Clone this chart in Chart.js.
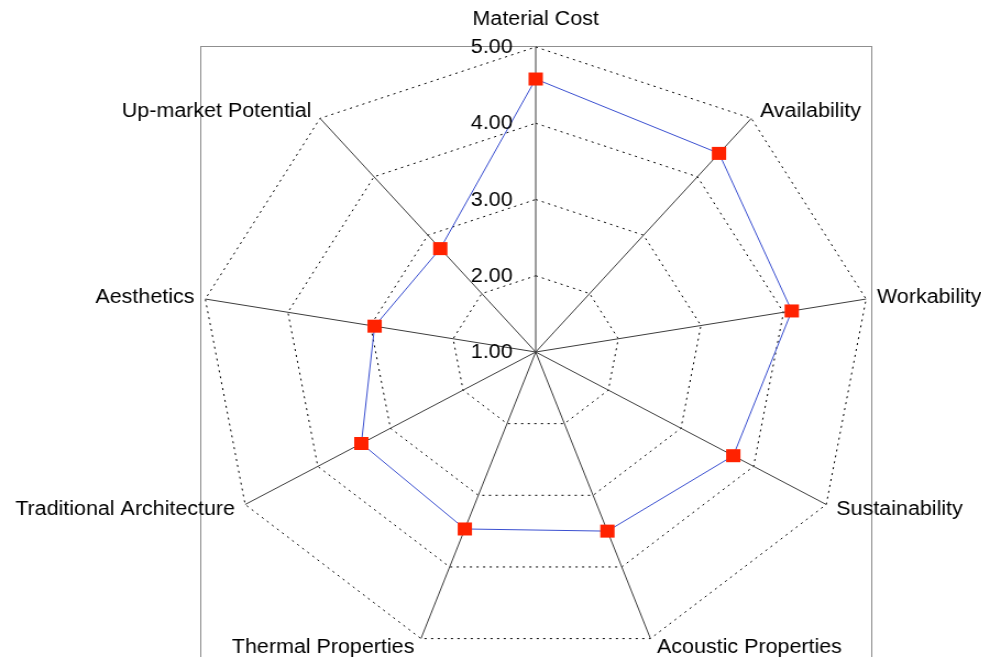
<!DOCTYPE html>
<html>
<head>
<meta charset="utf-8">
<title>Radar</title>
<script src="https://cdn.jsdelivr.net/npm/chart.js@4/dist/chart.umd.min.js"></script>
<style>
  html, body { margin: 0; padding: 0; background: #fff; overflow: hidden; }
  #wrap { width: 892px; height: 657px; transform: scaleX(1.1); transform-origin: 0 0; }
</style>
</head>
<body>
<div id="wrap"><canvas id="myChart" width="892" height="657"></canvas></div>
<script>
const categories = ['Material Cost', 'Availability', 'Workability', 'Sustainability',
    'Acoustic Properties', 'Thermal Properties', 'Traditional Architecture',
    'Aesthetics', 'Up-market Potential'];
const scores = [4.58, 4.40, 4.10, 3.72, 3.50, 3.47, 3.40, 2.95, 2.77];
const tickLabels = ['1.00', '2.00', '3.00', '4.00', '5.00'];

const FONT = '19.5px "Liberation Sans", Arial, sans-serif';

// excel style frame, tick labels and category labels
const excelLabels = {
    id: 'excelLabels',
    beforeDraw(chart) {
        const ctx = chart.ctx;
        const a = chart.chartArea;
        ctx.save();
        ctx.strokeStyle = '#8f8f8f';
        ctx.lineWidth = 1;
        ctx.strokeRect(a.left + 0.5, a.top - 0.5, a.right - a.left, a.bottom - a.top + 10);
        ctx.restore();
    },
    afterDraw(chart) {
        const r = chart.scales.r;
        const ctx = chart.ctx;
        ctx.save();
        ctx.font = FONT;
        ctx.fillStyle = '#000';
        ctx.textBaseline = 'alphabetic';

        ctx.textAlign = 'right';
        r.ticks.forEach(function (t) {
            const d = r.getDistanceFromCenterForValue(t.value);
            ctx.fillText(t.label, r.xCenter - 21, r.yCenter - d + 6);
        });

        categories.forEach(function (name, i) {
            const end = r.getPointPosition(i, r.drawingArea);
            const ang = r.getIndexAngle(i);
            const s = Math.sin(ang), c = Math.cos(ang);
            if (Math.abs(s) < 0.01) {
                ctx.textAlign = 'center';
                ctx.fillText(name, end.x, end.y - 22);
            } else {
                const gap = 4 + 6 * Math.abs(s);
                ctx.textAlign = s > 0 ? 'left' : 'right';
                ctx.fillText(name, end.x + (s > 0 ? gap : -gap), end.y + 5.5 - 9 * c);
            }
        });
        ctx.restore();
    }
};

const ctx = document.getElementById('myChart').getContext('2d');
const myChart = new Chart(ctx, {
    type: 'radar',
    data: {
        labels: categories,
        datasets: [{
            label: 'Score',
            data: scores,
            fill: false,
            borderColor: '#3a4fd0',
            borderWidth: 1,
            tension: 0,
            pointStyle: 'rect',
            pointRadius: 9.2,
            pointHoverRadius: 9.2,
            pointBackgroundColor: '#ff2200',
            pointBorderWidth: 0
        }]
    },
    options: {
        responsive: false,
        animation: false,
        layout: { padding: { left: 182, right: 100, top: 47, bottom: 0 } },
        plugins: {
            legend: { display: false },
            tooltip: { enabled: false }
        },
        scales: {
            r: {
                min: 1,
                max: 5,
                beginAtZero: true,
                ticks: {
                    stepSize: 1,
                    display: false,
                    callback: function (v, i) { return tickLabels[i]; }
                },
                pointLabels: { display: false },
                grid: { color: '#000', lineWidth: 1 },
                border: { dash: [2, 4] },
                angleLines: { color: '#3c3c3c', lineWidth: 1 }
            }
        }
    },
    plugins: [excelLabels]
});
</script>
</body>
</html>
